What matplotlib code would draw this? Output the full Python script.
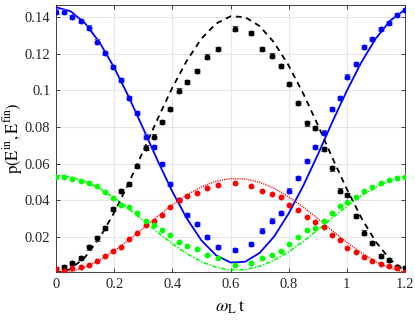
import matplotlib
matplotlib.use("Agg")
import matplotlib.pyplot as plt

t_data = [0.0, 0.028, 0.056, 0.085, 0.113, 0.140, 0.168, 0.195, 0.222, 0.251,
          0.280, 0.308, 0.336, 0.365, 0.393, 0.423, 0.452, 0.484, 0.518, 0.556,
          0.615, 0.670, 0.709, 0.742, 0.774, 0.801, 0.833, 0.864, 0.890, 0.920,
          0.948, 0.975, 1.001, 1.030, 1.059, 1.087, 1.116, 1.145, 1.173, 1.200]

blue_data = [0.1431, 0.1431, 0.1403, 0.1380, 0.1343, 0.1267, 0.1203, 0.1127, 0.1057, 0.0960,
             0.0875, 0.0747, 0.0692, 0.0598, 0.0488, 0.0401, 0.0319, 0.0268, 0.0200, 0.0145,
             0.0127, 0.0160, 0.0233, 0.0288, 0.0328, 0.0452, 0.0520, 0.0614, 0.0692, 0.0769,
             0.0897, 0.0960, 0.1075, 0.1143, 0.1236, 0.1281, 0.1336, 0.1367, 0.1413, 0.1440]

black_data = [0.0022, 0.0036, 0.0055, 0.0082, 0.0142, 0.0191, 0.0246, 0.0350, 0.0450, 0.0487,
              0.0588, 0.0687, 0.0747, 0.0826, 0.0899, 0.0999, 0.1045, 0.1105, 0.1185, 0.1227,
              0.1338, 0.1313, 0.1227, 0.1190, 0.1135, 0.1035, 0.0930, 0.0820, 0.0796, 0.0680,
              0.0574, 0.0452, 0.0428, 0.0313, 0.0222, 0.0167, 0.0095, 0.0073, 0.0036, 0.0027]

red_data = [0.0022, 0.0014, 0.0027, 0.0036, 0.0045, 0.0067, 0.0095, 0.0124, 0.0145, 0.0186,
            0.0219, 0.0263, 0.0288, 0.0319, 0.0364, 0.0401, 0.0423, 0.0441, 0.0465, 0.0483,
            0.0492, 0.0477, 0.0452, 0.0434, 0.0416, 0.0374, 0.0346, 0.0310, 0.0282, 0.0255,
            0.0209, 0.0182, 0.0140, 0.0118, 0.0091, 0.0067, 0.0049, 0.0042, 0.0027, 0.0009]

green_data = [0.0528, 0.0525, 0.0516, 0.0505, 0.0492, 0.0477, 0.0446, 0.0410, 0.0374, 0.0361,
              0.0328, 0.0286, 0.0264, 0.0237, 0.0209, 0.0170, 0.0151, 0.0133, 0.0100, 0.0085,
              0.0045, 0.0055, 0.0085, 0.0100, 0.0124, 0.0159, 0.0197, 0.0237, 0.0249, 0.0288,
              0.0328, 0.0368, 0.0388, 0.0419, 0.0452, 0.0474, 0.0495, 0.0510, 0.0523, 0.0528]

err_big = 0.0012
err_small = 0.0005

# ---- theory curves ----
t_theory = [0.0, 0.05, 0.10, 0.15, 0.20, 0.25, 0.30, 0.35, 0.40, 0.45, 0.50, 0.55, 0.60,
            0.65, 0.70, 0.75, 0.80, 0.85, 0.90, 0.95, 1.00, 1.05, 1.10, 1.15, 1.20]
blue_theory = [0.1455, 0.1433, 0.1367, 0.1262, 0.1125, 0.0965, 0.0791, 0.0614, 0.0447, 0.0299,
               0.0180, 0.0099, 0.0059, 0.0063, 0.0111, 0.0201, 0.0327, 0.0478, 0.0648, 0.0827,
               0.0998, 0.1154, 0.1285, 0.1383, 0.1441]
black_theory = [0.0, 0.0023, 0.0088, 0.0194, 0.0332, 0.0493, 0.0669, 0.0846, 0.1015, 0.1163,
                0.1283, 0.1365, 0.1405, 0.1401, 0.1352, 0.1262, 0.1136, 0.0983, 0.0812, 0.0632,
                0.0460, 0.0303, 0.0171, 0.0073, 0.0014]
red_theory = [0.0, 0.0008, 0.0033, 0.0071, 0.0122, 0.0182, 0.0246, 0.0312, 0.0374, 0.0429,
              0.0473, 0.0503, 0.0518, 0.0516, 0.0498, 0.0465, 0.0418, 0.0362, 0.0299, 0.0233,
              0.0169, 0.0112, 0.0063, 0.0027, 0.0005]
green_theory = [0.0535, 0.0527, 0.0502, 0.0464, 0.0413, 0.0354, 0.0289, 0.0224, 0.0162, 0.0107,
                0.0063, 0.0033, 0.0018, 0.0020, 0.0038, 0.0071, 0.0117, 0.0174, 0.0237, 0.0303,
                0.0366, 0.0424, 0.0472, 0.0508, 0.0530]

x_ticks = [0, 0.2, 0.4, 0.6, 0.8, 1.0, 1.2]
x_ticklabels = ["0", "0.2", "0.4", "0.6", "0.8", "1", "1.2"]
y_ticks = [0.02, 0.04, 0.06, 0.08, 0.10, 0.12, 0.14]
y_ticklabels = ["0.02", "0.04", "0.06", "0.08", "0.1", "0.12", "0.14"]

plt.rcParams['font.family'] = ['Liberation Serif', 'DejaVu Serif']
plt.rcParams['mathtext.fontset'] = 'stix'

fig = plt.figure(figsize=(4.15, 3.23), dpi=100)
ax = fig.add_axes([56/415, 1 - 272/323, (405-56)/415, (272-5)/323])

ax.grid(True, color='#e6e6e6', linewidth=0.8, zorder=0)
ax.set_axisbelow(True)

# theory lines
ax.plot(t_theory, blue_theory, color=(0, 0, 1), lw=1.3, ls='-', zorder=3)
ax.plot(t_theory, black_theory, color='k', lw=1.3, ls=(0, (3.2, 2.6)), zorder=3)
ax.plot(t_theory, red_theory, color=(1, 0, 0), lw=1.0, ls=(0, (0.8, 0.8)), zorder=3)
ax.plot(t_theory, green_theory, color=(0, 1, 0), lw=1.1, ls=(0, (3, 1, 1, 1)), zorder=3)

# data points with error bars
ax.errorbar(t_data, blue_data, yerr=err_big, fmt='o', ms=3.2, color=(0, 0, 1),
            ecolor=(0.4, 0.4, 1.0), elinewidth=0.8, capsize=2.0, capthick=0.8, zorder=4)
ax.errorbar(t_data, black_data, yerr=err_big, fmt='o', ms=3.2, color='k',
            ecolor=(0.35, 0.35, 0.35), elinewidth=0.8, capsize=2.0, capthick=0.8, zorder=4)
ax.errorbar(t_data, red_data, yerr=err_small, fmt='o', ms=3.2, color=(1, 0, 0),
            ecolor=(1, 0.4, 0.4), elinewidth=0.8, capsize=1.5, capthick=0.8, zorder=4)
ax.errorbar(t_data, green_data, yerr=err_small, fmt='o', ms=3.2, color=(0, 1, 0),
            ecolor=(0.4, 1, 0.4), elinewidth=0.8, capsize=1.5, capthick=0.8, zorder=4)

ax.set_xlim(0, 1.2)
ax.set_ylim(0.0007, 0.1467)
ax.set_xticks(x_ticks)
ax.set_xticklabels(x_ticklabels)
ax.set_yticks(y_ticks)
ax.set_yticklabels(y_ticklabels)
ax.tick_params(direction='in', length=3, width=0.6, colors='#262626', labelsize=10.5,
               top=True, right=True, pad=4)
for s in ax.spines.values():
    s.set_color('#262626')
    s.set_linewidth(0.6)

ax.set_xlabel(r'$\omega_{\mathrm{L}}\,\mathrm{t}$', fontsize=13)
ax.xaxis.set_label_coords(0.5, -0.10)
ax.set_ylabel(r'$\mathrm{p(E^{in},E^{fin})}$', fontsize=12)
ax.yaxis.set_label_coords(-0.088, 0.5)

fig.savefig('out.png', dpi=100)
